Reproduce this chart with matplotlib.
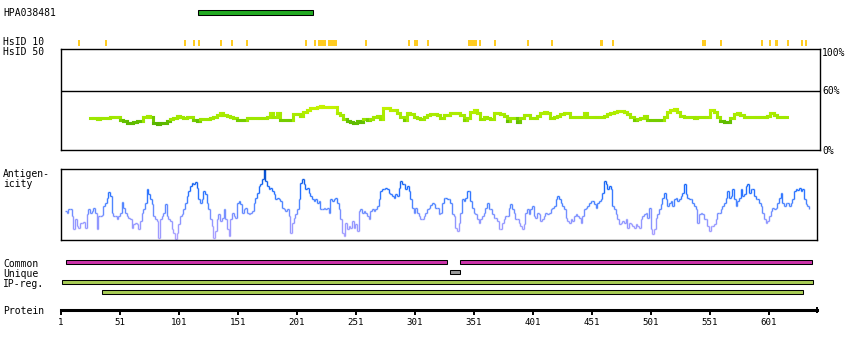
import numpy as np
import matplotlib
matplotlib.use("Agg")
import matplotlib.pyplot as plt
from matplotlib.collections import LineCollection
from matplotlib.colors import LinearSegmentedColormap, Normalize

# ---------------------------------------------------------------- data
protein_length = 642
tick_residues = [1, 51, 101, 151, 201, 251, 301, 351, 401, 451, 501, 551, 601]

antibody_name = "HPA038481"
antigen_span = (118, 214)

# residues with >10% identity hits (start, end)
hsid10_spans = [(16, 16), (39, 39), (106, 106), (114, 114), (118, 118),
                (137, 137), (146, 146), (159, 159), (209, 209), (216, 216),
                (220, 225), (228, 234), (260, 260), (296, 296), (301, 303),
                (312, 312), (347, 353), (356, 356), (369, 369), (397, 397),
                (417, 417), (459, 460), (469, 469), (545, 547), (561, 561),
                (595, 595), (602, 602), (607, 608), (617, 617), (629, 629),
                (633, 633)]

# HsID 50 profile (% identity), sampled evenly from residue 26 to 617
hsid50_range = (25.6, 616.6)
hsid50_pct = [
    32.0, 32.0, 31.7, 32.0, 32.0, 32.0, 33.1, 33.1, 33.7, 30.4,
    29.7, 27.7, 27.7, 28.7, 29.0, 29.0, 33.7, 34.4, 33.7, 27.0,
    26.0, 27.0, 27.7, 29.0, 31.4, 32.0, 34.4, 33.7, 32.0, 33.1,
    33.1, 30.4, 29.7, 31.4, 31.4, 31.4, 32.0, 33.1, 35.1, 37.8,
    35.1, 34.8, 33.7, 32.0, 30.4, 30.4, 30.4, 32.0, 32.0, 32.0,
    32.0, 32.0, 32.0, 33.7, 37.8, 33.1, 37.8, 30.4, 30.4, 30.4,
    30.4, 36.1, 36.1, 34.4, 38.8, 40.5, 42.5, 42.5, 43.2, 44.2,
    43.2, 43.2, 43.2, 43.2, 37.8, 35.4, 31.0, 29.7, 28.7, 27.7,
    29.7, 28.7, 31.0, 30.4, 31.0, 33.7, 34.4, 31.0, 42.2, 42.2,
    40.8, 40.2, 37.1, 33.7, 30.4, 37.1, 36.4, 33.7, 32.0, 31.0,
    33.1, 35.1, 36.4, 36.4, 35.4, 32.0,
    35.4, 35.4, 37.1, 37.8, 37.8, 35.4, 30.7, 32.0, 38.8, 40.5,
    37.8, 31.0, 33.7, 32.0, 31.7, 37.1, 37.8, 36.4, 34.4, 29.7,
    32.0, 32.0, 28.7, 32.0, 35.4, 35.1, 32.0, 32.0, 34.4, 37.1,
    38.5, 37.8, 32.0, 33.1, 34.8, 36.1, 37.4, 37.8, 33.7, 33.7,
    33.7, 33.7, 37.1, 33.7, 33.7, 33.4, 33.1, 33.7, 34.8, 36.4,
    37.4, 38.1, 39.1, 39.5, 38.8, 36.4, 33.7, 30.4, 31.0, 32.4,
    34.4, 30.7, 30.4, 30.4, 30.4, 30.4, 33.7, 38.8, 40.5, 41.2,
    38.8, 34.4, 33.4, 33.4, 33.1, 32.4, 33.1, 33.1, 33.1, 33.7,
    40.5, 38.5, 33.7, 29.7, 28.4, 28.0, 32.0, 36.4, 37.1, 35.4,
    33.7, 33.7, 33.7, 33.7, 33.7, 33.7, 33.7, 34.1, 37.1, 35.4,
    33.1, 33.1, 33.1, 33.1,
]

# antigenicity score, sampled evenly from residue 4 to 635
antigenicity_range = (4.4, 635.3)
antigenicity = [
    87, 82, 94, 92, 72, 32, 64, 42, 37, 52,
    50, 54, 37, 77, 92, 82, 87, 97, 82, 32,
    72, 72, 74, 102, 112, 127, 144, 132, 82, 72,
    72, 62, 72, 82, 114, 97, 82, 72, 67, 62,
    37, 47, 52, 47, 32, 57, 82, 92, 112, 152,
    137, 122, 107, 72, 62, 57, 7, 62, 72, 82,
    107, 72, 62, 57, 32, 22, 2, 22, 47, 72,
    77, 92, 112, 132, 147, 162, 172, 167, 174, 157,
    122, 112, 122, 147, 137, 112, 92, 62, 42, 7,
    27, 62, 77, 57, 67, 92, 62, 32, 12, 62,
    82, 72, 67, 112, 117, 107, 82, 92, 97, 82,
    77, 82, 87, 112, 127, 142, 162, 167, 182, 212,
    177, 162, 152, 157, 147, 137, 122, 127, 122, 117,
    97, 92, 87, 92, 72, 22, 52, 67, 77, 92,
    122, 172, 182, 167, 152, 157, 142, 132, 122, 117,
    122, 112, 117, 92,
    92, 97, 92, 97, 82, 122, 117, 122, 127, 112,
    92, 62, 22, 12, 52, 32, 42, 37, 57, 37,
    47, 27, 87, 92, 82, 87, 82, 72, 62, 87,
    92, 87, 92, 102, 122, 147, 152, 154, 157, 152,
    142, 137, 132, 127, 137, 132, 157, 177, 167, 167,
    152, 162, 147, 122, 97, 82, 97, 82, 72, 62,
    62, 72, 82, 92, 97, 104, 112, 107, 97, 97,
    77, 82, 112, 127, 127, 122, 122, 112, 77, 72,
    37, 27, 52, 82, 122, 117, 127, 147, 147, 117,
    97, 82, 77, 62, 52, 62, 72, 82, 97, 112,
    92, 92, 77, 67, 67, 57, 32, 32, 52, 62,
    72, 72, 97, 107, 92, 82, 62, 62, 52, 42,
    32, 47, 82, 92, 77, 92, 102, 72, 67, 82,
    77, 57, 62, 72, 82, 77, 82, 92, 97, 102,
    122, 132, 122, 112, 102, 92, 67, 57, 52, 62,
    57, 72, 77,
    72, 67, 52, 72, 92, 97, 102, 112, 117, 117,
    107, 97, 112, 117, 122, 142, 177, 167, 152, 162,
    152, 102, 92, 77, 62, 47, 52, 57, 52, 62,
    37, 52, 47, 42, 37, 47, 42, 37, 62, 72,
    77, 82, 67, 97, 32, 17, 32, 67, 77, 92,
    107, 127, 142, 122, 102, 112, 117, 102, 122, 127,
    117, 122, 132, 142, 167, 137, 127, 122, 122, 112,
    102, 92, 52, 77, 82, 77, 62, 62, 42, 27,
    42, 42, 47, 62, 82, 82, 92, 102, 112, 127,
    147, 127, 132, 152, 122, 102, 117, 127, 152, 132,
    137, 162, 167, 142, 152, 152, 132, 122, 122, 112,
    102, 82, 62, 52, 57, 72, 87, 97, 92, 97,
    112, 127, 142, 112, 102, 112, 112, 102, 112, 122,
    147, 152, 150, 157, 147, 152, 122, 107, 102, 92,
]

track_labels = ["Common", "Unique", "IP-reg.", ""]
track_spans = [[(6, 328), (340, 637)],
               [(331, 339)],
               [(2, 638)],
               [(36, 630)]]
track_colors = ["#cc33aa", "#999999", "#a8cc55", "#a8cc55"]

# ---------------------------------------------------------------- layout
W, H = 850, 350
fig = plt.figure(figsize=(W / 100, H / 100), dpi=100)
fig.patch.set_facecolor("white")

MONO = "DejaVu Sans Mono"
X0, X1 = 61, 817
px_per_res = (X1 - X0) / (protein_length - 1)


def add_px_axes(x0, y0, x1, y1):
    return fig.add_axes([x0 / W, 1 - y1 / H, (x1 - x0) / W, (y1 - y0) / H])


def set_res_lim(ax, x0=X0, x1=X1):
    ax.set_xlim(1 + (x0 - X0) / px_per_res, 1 + (x1 - X0) / px_per_res)


def label(x, y_base, s, size=7, ha="left"):
    fig.text(x / W, 1 - y_base / H, s, family=MONO, size=size,
             va="baseline", ha=ha, color="black")


def step_collection(x, y, cmap, norm, lw):
    segs, vals = [], []
    for i in range(len(x) - 1):
        segs.append([(x[i], y[i]), (x[i + 1], y[i])])
        vals.append(y[i])
        segs.append([(x[i + 1], y[i]), (x[i + 1], y[i + 1])])
        vals.append(0.5 * (y[i] + y[i + 1]))
    lc = LineCollection(segs, cmap=cmap, norm=norm, linewidths=lw)
    lc.set_array(np.asarray(vals))
    return lc


def box_style(ax):
    ax.set_xticks([])
    ax.set_yticks([])
    for sp in ax.spines.values():
        sp.set_linewidth(1.0)
        sp.set_color("black")


# antibody antigen bar
ax = add_px_axes(X0, 8, X1, 17)
set_res_lim(ax)
ax.set_ylim(0, 1)
ax.barh(0.5, antigen_span[1] - antigen_span[0] + 1, left=antigen_span[0] - 0.5,
        height=0.45, color="#22aa22", edgecolor="black", linewidth=0.75)
ax.axis("off")
label(3, 16.3, antibody_name)

# HsID 10 hits
ax = add_px_axes(X0, 39.5, X1, 45.5)
set_res_lim(ax)
ax.set_ylim(0, 1)
ax.broken_barh([(a - 0.85, b - a + 1.7) for a, b in hsid10_spans], (0, 1),
               facecolor="#ffcc22", edgecolor="none")
ax.axis("off")
label(3, 45.3, "HsID 10")

# HsID 50 profile
ax = add_px_axes(61, 48.5, 820, 150)
set_res_lim(ax, 61, 820)
ax.set_ylim(0, 102.7)
box_style(ax)
ax.axhline(60, color="black", linewidth=1.0)
hs_cmap = LinearSegmentedColormap.from_list(
    "hsid", [(0.0, "#55b000"), (0.26, "#66c200"), (0.3, "#9ae600"),
             (0.7, "#b2ee00"), (1.0, "#ccf400")])
hs_x = np.linspace(hsid50_range[0], hsid50_range[1], len(hsid50_pct))
lc = step_collection(hs_x, hsid50_pct, hs_cmap, Normalize(25, 45), 2.2)
lc.set_capstyle("projecting")
ax.add_collection(lc)
label(3, 55.3, "HsID 50")
label(822, 56, "100%")
label(822, 94, "60%")
label(822, 153.5, "0%")

# antigenicity profile
ax = add_px_axes(X0, 168.5, X1, 240)
set_res_lim(ax)
ax.set_ylim(0, 214)
box_style(ax)
ag_cmap = LinearSegmentedColormap.from_list(
    "antigen", [(0.0, "#b4a4ff"), (0.3, "#8a94ff"), (0.5, "#4f86ff"),
                (0.72, "#1c6cff"), (1.0, "#0048c0")])
ag_x = np.linspace(antigenicity_range[0], antigenicity_range[1], len(antigenicity))
ax.add_collection(step_collection(ag_x, antigenicity, ag_cmap, Normalize(0, 214), 1.0))
label(3, 176.7, "Antigen-")
label(3, 186.7, "icity")

# feature tracks
ax = add_px_axes(X0, 257.3, X1, 297.3)
set_res_lim(ax)
ax.set_ylim(3.5, -0.5)
for row, (spans, color) in enumerate(zip(track_spans, track_colors)):
    for a, b in spans:
        ax.barh(row, b - a + 1, left=a - 0.5, height=0.37, color=color,
                edgecolor="black", linewidth=0.75)
ax.axis("off")
for row, name in enumerate(track_labels):
    if name:
        label(3, 266.7 + 10 * row, name)

# protein ruler
ax = fig.add_axes([X0 / W, 1 - 309.5 / H, (X1 - X0) / W, 0.002])
set_res_lim(ax)
ax.patch.set_visible(False)
for side in ("top", "left", "right"):
    ax.spines[side].set_visible(False)
ax.spines["bottom"].set_linewidth(2.2)
ax.set_yticks([])
ax.set_xticks(tick_residues)
ax.set_xticklabels([str(t) for t in tick_residues], family=MONO, size=6.6)
ax.tick_params(axis="x", direction="out", length=3.3, width=1.4, pad=3)
ax.set_xticks([protein_length], minor=True)
ax.tick_params(axis="x", which="minor", direction="inout", length=4.2, width=1.4)
label(3, 314, "Protein")

fig.savefig("out.png", dpi=100, facecolor="white")
